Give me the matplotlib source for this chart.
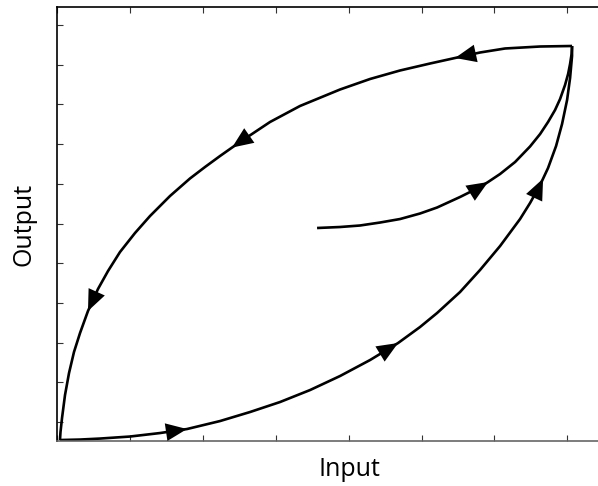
import numpy as np
import matplotlib
matplotlib.use("Agg")
import matplotlib.pyplot as plt

plt.rcParams["font.family"] = ["Open Sans", "DejaVu Sans"]

# hysteresis loop, read in tick units (x ticks 0..7, y ticks 0..10)
# descending branch: from saturation back to the origin
down_x = [7.064, 6.626, 6.145, 5.802, 5.460, 5.117, 4.705, 4.294, 3.882, 3.333,
          2.922, 2.510, 2.400, 2.236, 2.030, 1.824, 1.550, 1.276, 1.070, 0.864,
          0.700, 0.562, 0.425, 0.316, 0.233, 0.165, 0.110, 0.069, 0.048, 0.041]
down_y = [9.471, 9.458, 9.408, 9.307, 9.169, 9.030, 8.854, 8.640, 8.375, 7.960,
          7.557, 7.053, 6.912, 6.700, 6.423, 6.134, 5.693, 5.189, 4.761, 4.282,
          3.804, 3.350, 2.796, 2.242, 1.763, 1.234, 0.680, 0.101, -0.252, -0.453]
down_arrows = [4, 12, 22]

# ascending branch: from the origin up to saturation
up_x = [0.041, 0.316, 0.590, 1.001, 1.413, 1.783, 2.236, 2.647, 3.059, 3.471,
        3.882, 4.294, 4.678, 4.979, 5.213, 5.528, 5.802, 6.077, 6.351, 6.488,
        6.626, 6.667, 6.735, 6.845, 6.927, 6.996, 7.037, 7.064, 7.064]
up_y = [-0.453, -0.441, -0.416, -0.365, -0.277, -0.176, 0.025, 0.252, 0.504, 0.806,
        1.159, 1.562, 1.990, 2.393, 2.746, 3.275, 3.829, 4.433, 5.113, 5.516,
        5.970, 6.131, 6.398, 6.952, 7.506, 8.111, 8.665, 9.219, 9.471]
up_arrows = [5, 12, 21]

# initial magnetisation curve from the demagnetised state
init_x = [3.567, 3.882, 4.156, 4.431, 4.705, 4.979, 5.213, 5.528, 5.802, 5.912,
          6.077, 6.283, 6.488, 6.626, 6.735, 6.831, 6.900, 6.968, 7.010, 7.037,
          7.058, 7.064]
init_y = [4.887, 4.912, 4.950, 5.025, 5.113, 5.252, 5.403, 5.668, 5.919, 6.045,
          6.247, 6.549, 6.940, 7.254, 7.557, 7.859, 8.136, 8.489, 8.766, 9.018,
          9.270, 9.471]
init_arrows = [9]

fig = plt.figure(figsize=(5.98, 4.86), dpi=100)
ax = fig.add_axes([0.0953, 0.0932, 0.9047, 0.8924])

lw = 1.9
for xs, ys, arrows in [(down_x, down_y, down_arrows),
                       (up_x, up_y, up_arrows),
                       (init_x, init_y, init_arrows)]:
    ax.plot(xs, ys, color="black", lw=lw, solid_capstyle="butt", solid_joinstyle="round")
    for i in arrows:
        ax.annotate("", xy=(xs[i], ys[i]), xytext=(xs[i - 1], ys[i - 1]),
                    arrowprops=dict(arrowstyle="-|>,head_length=0.95,head_width=0.4",
                                    color="black", lw=0, shrinkA=0, shrinkB=0,
                                    mutation_scale=16))

ax.set_xlim(0, 7.42)
ax.set_ylim(-0.47, 10.453)
ax.set_xticks(range(0, 8))
ax.set_yticks(range(0, 11))
ax.tick_params(axis="x", direction="in", length=4.5, width=0.8, color="#333333",
               top=True, labelbottom=False)
ax.tick_params(axis="y", direction="in", length=4.5, width=0.8, color="#333333",
               labelleft=False)
ax.spines["right"].set_visible(False)
ax.spines["left"].set_linewidth(1.2)
ax.spines["top"].set_linewidth(1.2)
ax.spines["bottom"].set_color("#666666")
ax.spines["bottom"].set_linewidth(1.2)

fig.text(349 / 598, 1 - 469 / 486, "Input", fontsize=18, ha="center", va="center")
fig.text(24 / 598, 1 - 224 / 486, "Output", fontsize=18, ha="center", va="center",
         rotation=90)

fig.savefig("out.png", dpi=100)
